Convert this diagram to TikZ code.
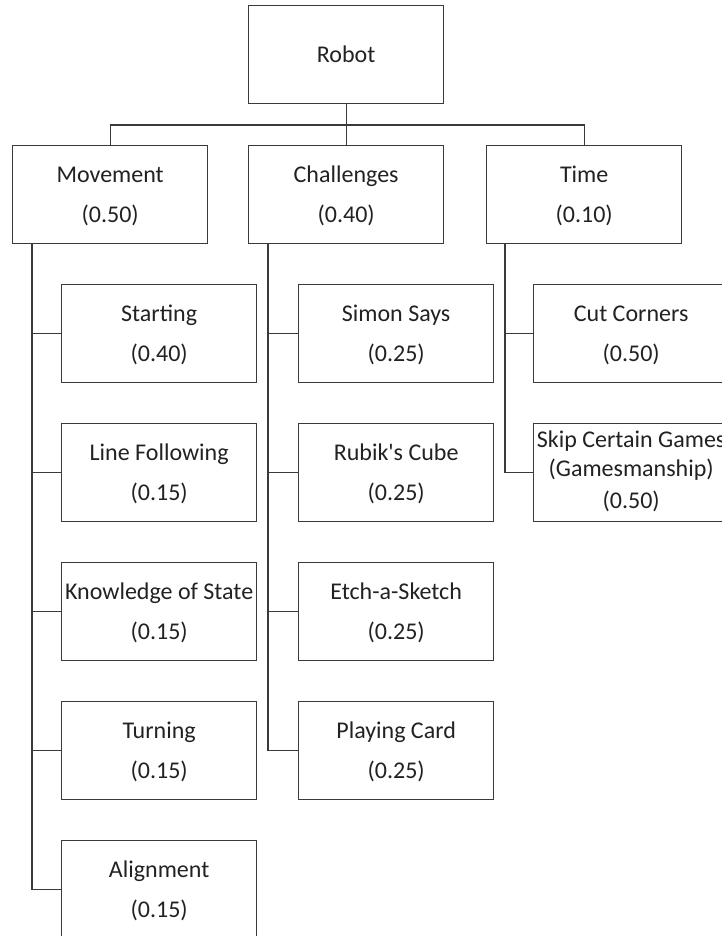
\documentclass[tikz,border=0pt]{standalone}
\usepackage{fontspec}
\setmainfont{Carlito}[Ligatures=TeXOff]
\definecolor{boxcol}{HTML}{3A3A3A}
\definecolor{linecol}{HTML}{3A3A3A}
\definecolor{txtcol}{HTML}{222222}
\newcommand{\twolines}[3]{%
  \node[lbl] (#1-a) at ([yshift=12.5pt]#1.center) {#2};
  \node[lbl] (#1-b) at ([yshift=-27.5pt]#1.center) {#3};}
\begin{document}
\begin{tikzpicture}[x=1pt,y=-1pt,
  box/.style={draw=boxcol, line width=1.3pt, minimum width=195pt, minimum height=98pt, inner sep=0pt, anchor=north west},
  lbl/.style={anchor=base, font=\fontsize{24}{28}\selectfont, text=txtcol, inner sep=0pt},
  conn/.style={draw=linecol, line width=1.2pt}]
\useasboundingbox (0,0) rectangle (721,936);
\fill[white] (0,0) rectangle (721,936);
% boxes
\node[box] (robot) at (248,5) {};
\node[box] (movement) at (12,145) {};
\node[box] (challenges) at (248,145) {};
\node[box] (time) at (486,145) {};
\node[box] (starting) at (61,284) {};
\node[box] (linef) at (61,423) {};
\node[box] (knowledge) at (61,562) {};
\node[box] (turning) at (61,701) {};
\node[box] (alignment) at (61,840) {};
\node[box] (simon) at (298,284) {};
\node[box] (rubik) at (298,423) {};
\node[box] (etch) at (298,562) {};
\node[box] (playing) at (298,701) {};
\node[box] (cut) at (533,284) {};
\node[box] (skip) at (533,423) {};
% texts
\node[lbl] (robot-a) at ([yshift=-8pt]robot.center) {Robot};
\twolines{movement}{Movement}{(0.50)}
\twolines{challenges}{Challenges}{(0.40)}
\twolines{time}{Time}{(0.10)}
\twolines{starting}{Starting}{(0.40)}
\twolines{linef}{Line Following}{(0.15)}
\twolines{knowledge}{Knowledge of State}{(0.15)}
\twolines{turning}{Turning}{(0.15)}
\twolines{alignment}{Alignment}{(0.15)}
\twolines{simon}{Simon Says}{(0.25)}
\twolines{rubik}{Rubik's Cube}{(0.25)}
\twolines{etch}{Etch-a-Sketch}{(0.25)}
\twolines{playing}{Playing Card}{(0.25)}
\twolines{cut}{Cut Corners}{(0.50)}
\node[lbl] (skip-a) at ([yshift=25pt]skip.center) {Skip Certain Games};
\node[lbl] (skip-b) at ([yshift=-3.5pt]skip.center) {(Gamesmanship)};
\node[lbl] (skip-c) at ([yshift=-36pt]skip.center) {(0.50)};
% connectors
\coordinate (bus) at (0,125);
\coordinate (mtrunk) at (32,0);
\coordinate (ctrunk) at (268,0);
\coordinate (ttrunk) at (505,0);
\draw[conn] (robot.south) -- (challenges.north);
\draw[conn] (movement.north) |- (time.north |- bus) -- (time.north);
\draw[conn] (movement.south -| mtrunk) |- (alignment.west);
\draw[conn] (mtrunk |- starting.west) -- (starting.west);
\draw[conn] (mtrunk |- linef.west) -- (linef.west);
\draw[conn] (mtrunk |- knowledge.west) -- (knowledge.west);
\draw[conn] (mtrunk |- turning.west) -- (turning.west);
\draw[conn] (challenges.south -| ctrunk) |- (playing.west);
\draw[conn] (ctrunk |- simon.west) -- (simon.west);
\draw[conn] (ctrunk |- rubik.west) -- (rubik.west);
\draw[conn] (ctrunk |- etch.west) -- (etch.west);
\draw[conn] (time.south -| ttrunk) |- (skip.west);
\draw[conn] (ttrunk |- cut.west) -- (cut.west);
\end{tikzpicture}
\end{document}
